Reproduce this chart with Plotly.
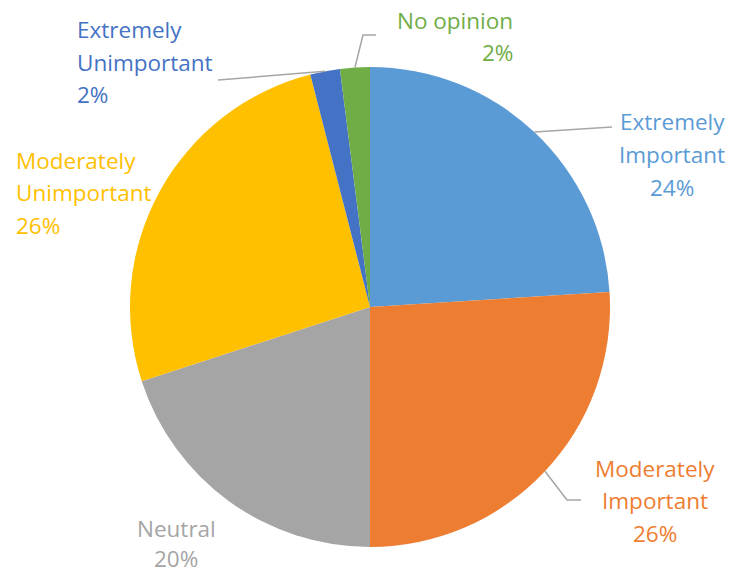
import math
import plotly.graph_objects as go

categories = ["Extremely Important", "Moderately Important", "Neutral",
              "Moderately Unimportant", "Extremely Unimportant", "No opinion"]
values = [24, 26, 20, 26, 2, 2]
colors = ["#5B9BD5", "#ED7D31", "#A5A5A5", "#FFC000", "#4472C4", "#70AD47"]
label_lines = [["Extremely", "Important"], ["Moderately", "Important"], ["Neutral"],
               ["Moderately", "Unimportant"], ["Extremely", "Unimportant"], ["No opinion"]]

W, H = 731, 573
CX, CY, R = 370, 307, 240

# label layout: (x px, first-line y px, xanchor, line spacing px)
label_pos = [(672, 122, "center", 32.5), (655, 468, "center", 32.5),
             (176, 528, "center", 30), (14, 160, "left", 32.5),
             (75, 30, "left", 32.5), (515, 20, "right", 32.5)]
# leader line bend/end points in px (None = no leader)
leaders = [[(612, 127)], [(567, 500), (581, 500)], None, None,
           [(218, 80)], [(363, 35), (376, 35)]]
FONT = "Open Sans"
FS = 22.5

def px(x, y):
    return x / W, 1 - y / H

fig = go.Figure(go.Pie(
    labels=categories, values=values, sort=False, direction="clockwise",
    rotation=0, marker=dict(colors=colors, line=dict(width=0)),
    textinfo="none", hoverinfo="label+percent", showlegend=False,
    domain=dict(x=[(CX - R) / W, (CX + R) / W],
                y=[(H - CY - R) / H, (H - CY + R) / H]),
))

total = sum(values)
annotations = []
shapes = []
cum = 0
for i, v in enumerate(values):
    mid = (cum + v / 2) / total * 2 * math.pi
    cum += v
    pct = f"{round(v / total * 100)}%"
    lines = label_lines[i] + [pct]
    lx, ly, anc, lh = label_pos[i]
    for j, t in enumerate(lines):
        x, y = px(lx, ly + j * lh)
        annotations.append(dict(x=x, y=y, xref="paper", yref="paper", text=t,
                                showarrow=False, xanchor=anc, yanchor="middle",
                                font=dict(family=FONT, size=FS, color=colors[i])))
    if leaders[i]:
        sx = CX + R * math.sin(mid)
        sy = CY - R * math.cos(mid)
        pts = [(sx, sy)] + leaders[i]
        path = "M " + " L ".join(f"{px(a, b)[0]},{px(a, b)[1]}" for a, b in pts)
        shapes.append(dict(type="path", path=path, xref="paper", yref="paper",
                           line=dict(color="#A6A6A6", width=1.5)))

fig.update_layout(width=W, height=H, margin=dict(l=0, r=0, t=0, b=0),
                  paper_bgcolor="white", plot_bgcolor="white",
                  annotations=annotations, shapes=shapes)
fig.write_html("out.html")
